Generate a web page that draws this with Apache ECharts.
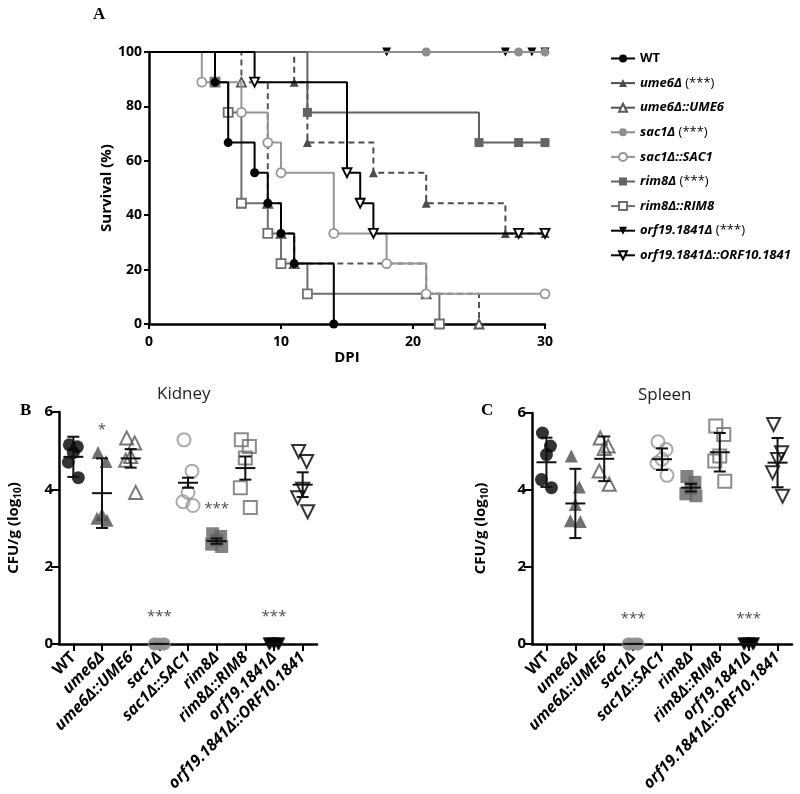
<!DOCTYPE html>
<html>
<head>
<meta charset="utf-8" />
<title></title>
<script src="https://cdn.jsdelivr.net/npm/echarts@6/dist/echarts.min.js"></script>
<style>
    body { margin: 0; background: #fff; }
    #main { width: 800px; height: 794px; }
</style>
</head>
<body>
<div id="main"></div>
<script>
    // strains, same order in legend and on the B / C axes
    var strains = ['WT', 'ume6Δ', 'ume6Δ::UME6', 'sac1Δ', 'sac1Δ::SAC1', 'rim8Δ', 'rim8Δ::RIM8', 'orf19.1841Δ', 'orf19.1841Δ::ORF10.1841'];
    var sigStrains = ['ume6Δ', 'sac1Δ', 'rim8Δ', 'orf19.1841Δ'];

    // A: survival (%) by day post infection
    var survWT = [[0, 100], [5, 88.9], [6, 66.7], [8, 55.6], [9, 44.4], [10, 33.3], [11, 22.2], [14, 0]];
    var survUme6 = [[0, 100], [11, 88.9], [12, 66.7], [17, 55.6], [21, 44.4], [27, 33.3], [28, 33.3], [30, 33.3]];
    var survUme6Re = [[0, 100], [7, 88.9], [9, 44.4], [10, 33.3], [11, 22.2], [21, 11.1], [25, 0]];
    var survSac1 = [[0, 100], [21, 100], [28, 100], [30, 100]];
    var survSac1Re = [[0, 100], [4, 88.9], [7, 77.8], [9, 66.7], [10, 55.6], [14, 33.3], [18, 22.2], [21, 11.1], [30, 11.1]];
    var survRim8 = [[0, 100], [12, 77.8], [25, 66.7], [28, 66.7], [30, 66.7]];
    var survRim8Re = [[0, 100], [5, 88.9], [6, 77.8], [7, 44.4], [9, 33.3], [10, 22.2], [12, 11.1], [22, 0]];
    var survOrf = [[0, 100], [18, 100], [27, 100], [29, 100], [30, 100]];
    var survOrfRe = [[0, 100], [8, 88.9], [15, 55.6], [16, 44.4], [17, 33.3], [28, 33.3], [30, 33.3]];
    var survAll = [survWT, survUme6, survUme6Re, survSac1, survSac1Re, survRim8, survRim8Re, survOrf, survOrfRe];

    // B: kidney CFU/g (log10), 5 mice each
    var kidneyWT = [5.15, 5.1, 4.95, 4.7, 4.3];
    var kidneyUme6 = [4.95, 4.72, 3.35, 3.25, 3.2];
    var kidneyUme6Re = [5.33, 5.2, 4.85, 4.75, 3.92];
    var kidneySac1 = [0, 0, 0, 0, 0];
    var kidneySac1Re = [5.28, 4.47, 3.92, 3.68, 3.58];
    var kidneyRim8 = [2.85, 2.78, 2.68, 2.58, 2.52];
    var kidneyRim8Re = [5.28, 5.11, 4.81, 4.04, 3.53];
    var kidneyOrf = [0, 0, 0, 0, 0];
    var kidneyOrfRe = [4.98, 4.72, 4.0, 3.78, 3.42];
    var kidneyAll = [kidneyWT, kidneyUme6, kidneyUme6Re, kidneySac1, kidneySac1Re, kidneyRim8, kidneyRim8Re, kidneyOrf, kidneyOrfRe];
    var kidneyMean = [4.84, 3.9, 4.8, 0, 4.17, 2.66, 4.55, 0, 4.12];
    var kidneySD = [0.52, 0.9, 0.24, 0, 0.13, 0.07, 0.3, 0, 0.32];
    var kidneyStars = [[1, 5.55, '*'], [3, 0.7, '***'], [5, 3.5, '***'], [7, 0.7, '***']];

    // C: spleen CFU/g (log10)
    var spleenWT = [5.48, 5.14, 4.92, 4.27, 4.06];
    var spleenUme6 = [4.88, 4.08, 3.62, 3.2, 3.18];
    var spleenUme6Re = [5.35, 5.14, 5.08, 4.49, 4.15];
    var spleenSac1 = [0, 0, 0, 0, 0];
    var spleenSac1Re = [5.25, 5.05, 4.8, 4.7, 4.38];
    var spleenRim8 = [4.35, 4.2, 4.05, 3.9, 3.85];
    var spleenRim8Re = [5.66, 5.44, 4.88, 4.75, 4.23];
    var spleenOrf = [0, 0, 0, 0, 0];
    var spleenOrfRe = [5.7, 4.97, 4.79, 4.45, 3.84];
    var spleenAll = [spleenWT, spleenUme6, spleenUme6Re, spleenSac1, spleenSac1Re, spleenRim8, spleenRim8Re, spleenOrf, spleenOrfRe];
    var spleenMean = [4.72, 3.65, 4.81, 0, 4.8, 4.06, 4.98, 0, 4.71];
    var spleenSD = [0.64, 0.9, 0.58, 0, 0.28, 0.1, 0.5, 0, 0.64];
    var spleenStars = [[3, 0.65, '***'], [7, 0.65, '***']];

    // marker styles per strain
    var colors = ['#000', '#4d4d4d', '#555', '#8e8e8e', '#969696', '#636363', '#6e6e6e', '#000', '#000'];
    var symbols = ['circle', 'triangle', 'triangle', 'circle', 'circle', 'rect', 'rect', 'triangle', 'triangle'];
    var filled = [true, true, false, true, false, true, false, true, false];
    var rotates = [0, 0, 0, 0, 0, 0, 0, 180, 180];
    var dashed = [false, true, true, false, false, false, false, false, false];
    var zOrder = [9, 6, 5, 4, 7, 6, 6, 3, 8];
    var jitter = [-4, 4, 0, -5, 5];

    var font = 'Open Sans';

    var series = [];
    survAll.forEach(function (s, i) {
        series.push({
            type: 'line', name: strains[i], xAxisIndex: 0, yAxisIndex: 0,
            step: 'end', showAllSymbol: true, animation: false,
            data: s.map(function (p, j) { return j === 0 ? { value: p, symbol: 'none' } : p; }),
            symbol: symbols[i], symbolSize: 9, symbolRotate: rotates[i],
            lineStyle: { color: colors[i], width: 2, type: dashed[i] ? [6, 4] : 'solid' },
            itemStyle: { color: filled[i] ? colors[i] : '#fff', borderColor: colors[i], borderWidth: filled[i] ? 0 : 1.8 },
            emphasis: { disabled: true },
            z: zOrder[i]
        });
    });

    function addDots(all, axis) {
        all.forEach(function (vals, i) {
            series.push({
                type: 'scatter', xAxisIndex: axis, yAxisIndex: axis, animation: false,
                symbol: symbols[i], symbolSize: 13, symbolRotate: rotates[i],
                data: vals.map(function (v, j) { return { value: [i, v], symbolOffset: [jitter[j], 0] }; }),
                itemStyle: { color: filled[i] ? colors[i] : 'rgba(0,0,0,0)', borderColor: colors[i], borderWidth: filled[i] ? 0 : 2 },
                z: 2
            });
        });
    }

    function errRender(params, api) {
        var x = api.value(0), m = api.value(1), s = api.value(2);
        var c = api.coord([x, m]);
        var t = api.coord([x, m + s]);
        var b = api.coord([x, m - s]);
        var st = { stroke: '#111', lineWidth: 2, fill: null };
        return {
            type: 'group', children: [
                { type: 'line', shape: { x1: c[0] - 10, y1: c[1], x2: c[0] + 10, y2: c[1] }, style: st },
                { type: 'line', shape: { x1: c[0], y1: t[1], x2: c[0], y2: b[1] }, style: st },
                { type: 'line', shape: { x1: c[0] - 6, y1: t[1], x2: c[0] + 6, y2: t[1] }, style: st },
                { type: 'line', shape: { x1: c[0] - 6, y1: b[1], x2: c[0] + 6, y2: b[1] }, style: st }
            ]
        };
    }

    function addBars(mean, sd, axis) {
        series.push({
            type: 'custom', xAxisIndex: axis, yAxisIndex: axis, renderItem: errRender,
            encode: { x: 0, y: 1 }, animation: false, z: 3,
            data: mean.map(function (m, i) { return [i, m, sd[i]]; })
        });
    }

    function addStars(stars, axis) {
        series.push({
            type: 'scatter', xAxisIndex: axis, yAxisIndex: axis, animation: false,
            symbol: 'circle', symbolSize: 2, itemStyle: { color: 'rgba(0,0,0,0)' },
            data: stars.map(function (s) { return { value: [s[0], s[1]], name: s[2] }; }),
            label: { show: true, position: 'inside', formatter: '{b}', color: '#1a1a1a', fontSize: 15, fontFamily: font },
            emphasis: { disabled: true },
            z: 4
        });
    }

    addDots(kidneyAll, 1); addBars(kidneyMean, kidneySD, 1); addStars(kidneyStars, 1);
    addDots(spleenAll, 2); addBars(spleenMean, spleenSD, 2); addStars(spleenStars, 2);

    var axisLine = { show: true, lineStyle: { color: '#000', width: 2.5 } };
    var tick = function (len) { return { show: true, length: len, lineStyle: { color: '#000', width: 2 } }; };
    var numLabel = { color: '#000', fontWeight: 'bold', fontFamily: font };

    function catAxis(grid) {
        return {
            type: 'category', gridIndex: grid, data: strains, boundaryGap: true,
            axisLine: axisLine, axisTick: Object.assign(tick(7), { alignWithLabel: true }),
            axisLabel: {
                interval: 0, rotate: 45, margin: 11,
                formatter: function (v) { return v === 'WT' ? '{n|WT}' : '{i|' + v + '}'; },
                rich: {
                    n: { color: '#000', fontWeight: 'bold', fontSize: 16, fontFamily: font },
                    i: { color: '#000', fontWeight: 'bold', fontStyle: 'italic', fontSize: 16, fontFamily: font }
                }
            },
            splitLine: { show: false }
        };
    }

    function cfuAxis(grid, gap) {
        return {
            type: 'value', gridIndex: grid, min: 0, max: 6, interval: 2,
            axisLine: axisLine, axisTick: tick(8),
            axisLabel: Object.assign({ fontSize: 15, margin: 6 }, numLabel),
            splitLine: { show: false },
            name: 'CFU/g (log{s|10})', nameLocation: 'middle', nameGap: gap,
            nameTextStyle: {
                color: '#000', fontWeight: 'bold', fontSize: 15, fontFamily: font,
                rich: { s: { fontSize: 10, fontWeight: 'bold', fontFamily: font, padding: [8, 0, 0, 0] } }
            }
        };
    }

    var option = {
        backgroundColor: '#fff',
        title: [
            { text: 'A', left: 88, top: 1, textStyle: { fontFamily: 'Liberation Serif', fontWeight: 'bold', fontSize: 17, color: '#000' } },
            { text: 'B', left: 15, top: 397, textStyle: { fontFamily: 'Liberation Serif', fontWeight: 'bold', fontSize: 17, color: '#000' } },
            { text: 'C', left: 476, top: 397, textStyle: { fontFamily: 'Liberation Serif', fontWeight: 'bold', fontSize: 17, color: '#000' } },
            { text: 'Kidney', left: 152, top: 381, textStyle: { fontFamily: font, fontWeight: 'normal', fontSize: 17, color: '#222' } },
            { text: 'Spleen', left: 633, top: 382, textStyle: { fontFamily: font, fontWeight: 'normal', fontSize: 17, color: '#222' } }
        ],
        legend: {
            data: strains, orient: 'vertical', left: 605, top: 47,
            itemWidth: 24, itemHeight: 10, itemGap: 11.6, selectedMode: false,
            lineStyle: { type: 'solid' },
            formatter: function (n) {
                var t = n === 'WT' ? '{n|WT}' : '{i|' + n + '}';
                return sigStrains.indexOf(n) >= 0 ? t + '{p| (***)}' : t;
            },
            textStyle: {
                rich: {
                    n: { color: '#000', fontWeight: 'bold', fontSize: 13, fontFamily: font, lineHeight: 15 },
                    i: { color: '#000', fontWeight: 'bold', fontStyle: 'italic', fontSize: 13, fontFamily: font, lineHeight: 15 },
                    p: { color: '#000', fontWeight: 'normal', fontSize: 13, fontFamily: font, lineHeight: 15 }
                }
            }
        },
        grid: [
            { left: 149, top: 52, width: 396, height: 272 },
            { left: 59, top: 412, width: 258, height: 234 },
            { left: 532, top: 413, width: 260, height: 232 }
        ],
        xAxis: [
            {
                type: 'value', gridIndex: 0, min: 0, max: 30, interval: 10,
                axisLine: axisLine, axisTick: tick(5),
                axisLabel: Object.assign({ fontSize: 14, margin: 11 }, numLabel),
                splitLine: { show: false },
                name: 'DPI', nameLocation: 'middle', nameGap: 24,
                nameTextStyle: { color: '#000', fontWeight: 'bold', fontSize: 15, fontFamily: font }
            },
            catAxis(1), catAxis(2)
        ],
        yAxis: [
            {
                type: 'value', gridIndex: 0, min: 0, max: 100, interval: 20,
                axisLine: axisLine, axisTick: tick(5),
                axisLabel: Object.assign({ fontSize: 14, margin: 7 }, numLabel),
                splitLine: { show: false },
                name: 'Survival (%)', nameLocation: 'middle', nameGap: 32,
                nameTextStyle: { color: '#000', fontWeight: 'bold', fontSize: 15, fontFamily: font }
            },
            cfuAxis(1, 36), cfuAxis(2, 42)
        ],
        series: series
    };

    var myChart = echarts.init(document.getElementById('main'));
    myChart.setOption(option);
</script>
</body>
</html>
